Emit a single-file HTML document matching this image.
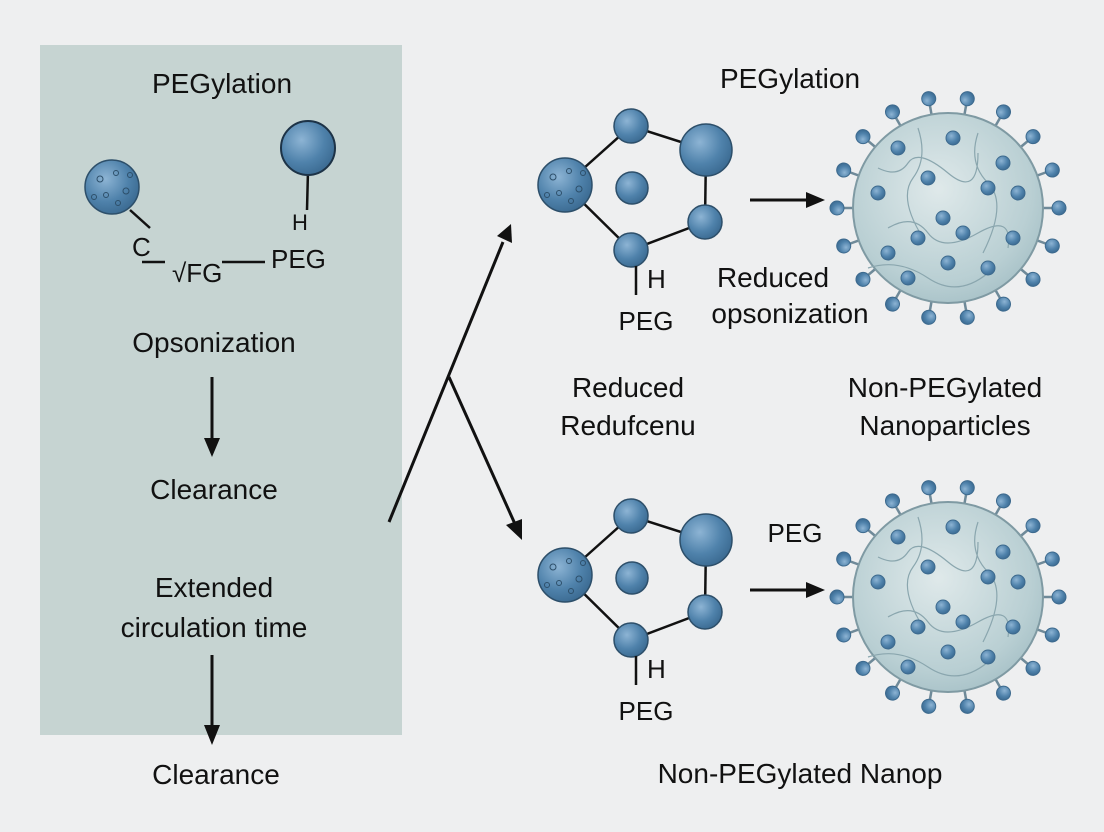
<!DOCTYPE html>
<html><head><meta charset="utf-8"><style>
html,body{margin:0;padding:0;background:#eeeff0;}
svg{display:block;}
text{font-family:"Liberation Sans",sans-serif;fill:#111;}
</style></head><body>
<svg width="1104" height="832" viewBox="0 0 1104 832" xmlns="http://www.w3.org/2000/svg">
<defs>
<radialGradient id="bl" cx="0.38" cy="0.35" r="0.7">
<stop offset="0" stop-color="#8db4d4"/><stop offset="0.6" stop-color="#4f82ab"/><stop offset="1" stop-color="#3a6990"/>
</radialGradient>
<radialGradient id="big" cx="0.45" cy="0.4" r="0.7">
<stop offset="0" stop-color="#dfe9ea"/><stop offset="0.7" stop-color="#b9cfd3"/><stop offset="1" stop-color="#9fbbc2"/>
</radialGradient>
<g id="sp"><line x1="92" y1="0" x2="106" y2="0" stroke="#6f8a99" stroke-width="2.5"/><circle cx="111" cy="0" r="7" fill="url(#bl)" stroke="#3d6a8e" stroke-width="1"/></g>
<g id="spiky"><circle r="27" fill="url(#bl)" stroke="#2d4f6a" stroke-width="1.5"/>
<circle cx="-12" cy="-8" r="3" fill="none" stroke="#2d4f6a"/><circle cx="4" cy="-14" r="2.5" fill="none" stroke="#2d4f6a"/><circle cx="14" cy="4" r="3" fill="none" stroke="#2d4f6a"/><circle cx="-6" cy="8" r="2.5" fill="none" stroke="#2d4f6a"/><circle cx="-18" cy="10" r="2.5" fill="none" stroke="#2d4f6a"/><circle cx="6" cy="16" r="2.5" fill="none" stroke="#2d4f6a"/><circle cx="18" cy="-12" r="2.5" fill="none" stroke="#2d4f6a"/></g>
<g id="np">
<use href="#sp" transform="rotate(0)"/><use href="#sp" transform="rotate(20)"/><use href="#sp" transform="rotate(40)"/><use href="#sp" transform="rotate(60)"/><use href="#sp" transform="rotate(80)"/><use href="#sp" transform="rotate(100)"/><use href="#sp" transform="rotate(120)"/><use href="#sp" transform="rotate(140)"/><use href="#sp" transform="rotate(160)"/><use href="#sp" transform="rotate(180)"/><use href="#sp" transform="rotate(200)"/><use href="#sp" transform="rotate(220)"/><use href="#sp" transform="rotate(240)"/><use href="#sp" transform="rotate(260)"/><use href="#sp" transform="rotate(280)"/><use href="#sp" transform="rotate(300)"/><use href="#sp" transform="rotate(320)"/><use href="#sp" transform="rotate(340)"/>
<circle r="95" fill="url(#big)" stroke="#7f9aa3" stroke-width="2"/>
<path d="M-70,-40 q20,10 30,-5 t40,10 t30,-20 M-60,20 q25,-15 40,5 t50,0 t30,15 M-30,-80 q10,30 -5,50 t10,60 M30,-75 q-10,30 10,50 t-5,70 M-80,60 q30,-10 60,10 t60,-5" fill="none" stroke="#8aa6ae" stroke-width="1.2"/>
<g fill="url(#bl)" stroke="#3d6a8e" stroke-width="1">
<circle cx="-50" cy="-60" r="7"/><circle cx="5" cy="-70" r="7"/><circle cx="55" cy="-45" r="7"/><circle cx="-70" cy="-15" r="7"/><circle cx="40" cy="-20" r="7"/><circle cx="70" cy="-15" r="7"/><circle cx="-5" cy="10" r="7"/><circle cx="15" cy="25" r="7"/><circle cx="-30" cy="30" r="7"/><circle cx="65" cy="30" r="7"/><circle cx="-60" cy="45" r="7"/><circle cx="0" cy="55" r="7"/><circle cx="40" cy="60" r="7"/><circle cx="-40" cy="70" r="7"/><circle cx="-20" cy="-30" r="7"/></g>
</g>
<g id="pent">
<g stroke="#111" stroke-width="2.5"><line x1="565" y1="185" x2="631" y2="126"/><line x1="631" y1="126" x2="706" y2="150"/><line x1="706" y1="150" x2="705" y2="222"/><line x1="705" y1="222" x2="631" y2="250"/><line x1="631" y1="250" x2="565" y2="185"/></g>
<use href="#spiky" transform="translate(565,185)"/>
<g fill="url(#bl)" stroke="#2d4f6a" stroke-width="1.5"><circle cx="631" cy="126" r="17"/><circle cx="706" cy="150" r="26"/><circle cx="632" cy="188" r="16"/><circle cx="705" cy="222" r="17"/><circle cx="631" cy="250" r="17"/></g>
<line x1="636" y1="266" x2="636" y2="295" stroke="#111" stroke-width="2.5"/>
<text x="647" y="288" font-size="26">H</text>
<text x="646" y="330" font-size="26" text-anchor="middle">PEG</text>
<line x1="750" y1="200" x2="808" y2="200" stroke="#111" stroke-width="3"/><polygon points="806,192 825,200 806,208" fill="#111"/>
</g>
</defs>
<rect x="40" y="45" width="362" height="690" fill="#c6d4d2"/>
<text x="222" y="93" font-size="28" text-anchor="middle">PEGylation</text>
<use href="#spiky" transform="translate(112,187)"/>
<line x1="308" y1="170" x2="307" y2="210" stroke="#111" stroke-width="2.5"/>
<circle cx="308" cy="148" r="27" fill="url(#bl)" stroke="#1d3347" stroke-width="2"/>
<line x1="130" y1="210" x2="150" y2="228" stroke="#111" stroke-width="2.5"/>
<text x="292" y="230" font-size="22">H</text>
<text x="132" y="256" font-size="26">C</text>
<line x1="142" y1="262" x2="165" y2="262" stroke="#111" stroke-width="2.5"/>
<text x="172" y="282" font-size="26">√FG</text>
<line x1="222" y1="262" x2="265" y2="262" stroke="#111" stroke-width="2.5"/>
<text x="271" y="268" font-size="26">PEG</text>
<text x="214" y="352" font-size="28" text-anchor="middle">Opsonization</text>
<line x1="212" y1="377" x2="212" y2="440" stroke="#111" stroke-width="3"/><polygon points="204,438 212,457 220,438" fill="#111"/>
<text x="214" y="499" font-size="28" text-anchor="middle">Clearance</text>
<text x="214" y="597" font-size="28" text-anchor="middle">Extended</text>
<text x="214" y="637" font-size="28" text-anchor="middle">circulation time</text>
<line x1="212" y1="655" x2="212" y2="727" stroke="#111" stroke-width="3"/><polygon points="204,725 212,745 220,725" fill="#111"/>
<text x="216" y="784" font-size="28" text-anchor="middle">Clearance</text>
<line x1="389" y1="522" x2="503" y2="242" stroke="#111" stroke-width="3"/><polygon points="497,236 511,224 512,243" fill="#111"/>
<line x1="449" y1="377" x2="515" y2="524" stroke="#111" stroke-width="3"/><polygon points="506,525 522,540 522,519" fill="#111"/>
<text x="790" y="88" font-size="28" text-anchor="middle">PEGylation</text>
<use href="#np" transform="translate(948,208)"/>
<use href="#pent"/>
<text x="773" y="287" font-size="28" text-anchor="middle">Reduced</text>
<text x="790" y="323" font-size="28" text-anchor="middle">opsonization</text>
<text x="628" y="397" font-size="28" text-anchor="middle">Reduced</text>
<text x="628" y="435" font-size="28" text-anchor="middle">Redufcenu</text>
<text x="945" y="397" font-size="28" text-anchor="middle">Non-PEGylated</text>
<text x="945" y="435" font-size="28" text-anchor="middle">Nanoparticles</text>
<use href="#np" transform="translate(948,597)"/>
<g transform="translate(0,390)"><use href="#pent"/></g>
<text x="795" y="542" font-size="26" text-anchor="middle">PEG</text>
<text x="800" y="783" font-size="28" text-anchor="middle">Non-PEGylated Nanop</text>
</svg>
</body></html>
